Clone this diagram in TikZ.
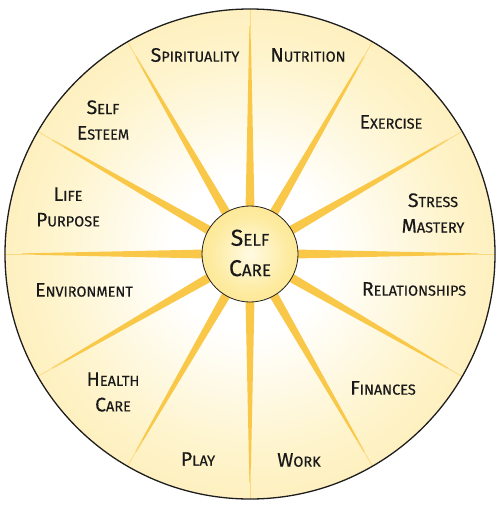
\documentclass[tikz,border=0pt]{standalone}
\usepackage{fontspec}
\setmainfont{Fira Sans}[FakeBold=0.4]
\usetikzlibrary{calc}
\definecolor{spokecol}{RGB}{249,200,72}
\definecolor{rimline}{RGB}{30,30,30}
\pgfdeclareradialshading{bigshade}{\pgfpoint{0bp}{0bp}}{%
  color(0bp)=(white);
  color(8bp)=(white);
  color(20bp)=(rgb,255:red,254;green,244;blue,205);
  color(38bp)=(rgb,255:red,253;green,230;blue,155);
  color(50bp)=(rgb,255:red,252;green,218;blue,115)}
\pgfdeclareradialshading{hubshade}{\pgfpoint{0bp}{0bp}}{%
  color(0bp)=(rgb,255:red,255;green,250;blue,228);
  color(20bp)=(rgb,255:red,253;green,235;blue,160);
  color(50bp)=(rgb,255:red,251;green,218;blue,112)}
\newcommand\sct[2]{{\fontsize{19.5}{19.5}\selectfont #1}{\fontsize{14.5}{14.5}\selectfont #2}}
\newcommand\hct[2]{{\fontsize{23}{23}\selectfont #1}{\fontsize{17}{17}\selectfont #2}}
\tikzset{
  lbl/.style={font=\fontsize{14.5}{14.5}\selectfont, align=center, text=black!90, inner sep=1pt},
  spoke/.style={fill=spokecol},
  faint/.style={draw=spokecol!70, line width=0.7pt},
}
\begin{document}
\begin{tikzpicture}[x=1pt,y=-1pt]
\useasboundingbox (0,0) rectangle (500,509);
\coordinate (C) at (250,254);
% outer disc
\path[shading=bigshade] (C) circle (245);
% spokes
\foreach \a in {0,30,...,330}{
  \coordinate (s1) at ($(C)+(\a:40)+(\a+90:4.6)$);
  \coordinate (s2) at ($(C)+(\a:228)+(\a+90:0.6)$);
  \coordinate (s3) at ($(C)+(\a:228)+(\a-90:0.6)$);
  \coordinate (s4) at ($(C)+(\a:40)+(\a-90:4.6)$);
  \coordinate (t1) at ($(C)+(\a:215)$);
  \coordinate (t2) at ($(C)+(\a:245)$);
  \fill[spoke] (s1) -- (s2) -- (s3) -- (s4) -- cycle;
  \draw[faint] (t1) -- (t2);
}
\draw[rimline, line width=1.3pt] (C) circle (245);
% hub
\path[shading=hubshade] (C) circle (48);
\draw[rimline, line width=0.8pt] (C) circle (48);
\node[lbl] (hub) at (250,253) {\hct{S}{ELF}\\[13pt]\hct{C}{ARE}};
% labels
\node[lbl] (spi) at (195,55) {\sct{S}{PIRITUALITY}};
\node[lbl] (nut) at (308,55) {\sct{N}{UTRITION}};
\node[lbl] (exe) at (391,122) {\sct{E}{XERCISE}};
\node[lbl] (str) at (433,213) {\sct{S}{TRESS}\\[11pt]\sct{M}{ASTERY}};
\node[lbl] (rel) at (414,289) {\sct{R}{ELATIONSHIPS}};
\node[lbl] (fin) at (383,388) {\sct{F}{INANCES}};
\node[lbl] (wor) at (299,460) {\sct{W}{ORK}};
\node[lbl] (pla) at (198,459) {\sct{P}{LAY}};
\node[lbl] (hea) at (113,392) {\sct{H}{EALTH}\\[11pt]\sct{C}{ARE}};
\node[lbl] (env) at (84,290) {\sct{E}{NVIRONMENT}};
\node[lbl] (lif) at (68,207) {\sct{L}{IFE}\\[11pt]\sct{P}{URPOSE}};
\node[lbl] (sel) at (103,120) {\sct{S}{ELF}\\[11pt]\sct{E}{STEEM}};
\end{tikzpicture}
\end{document}
